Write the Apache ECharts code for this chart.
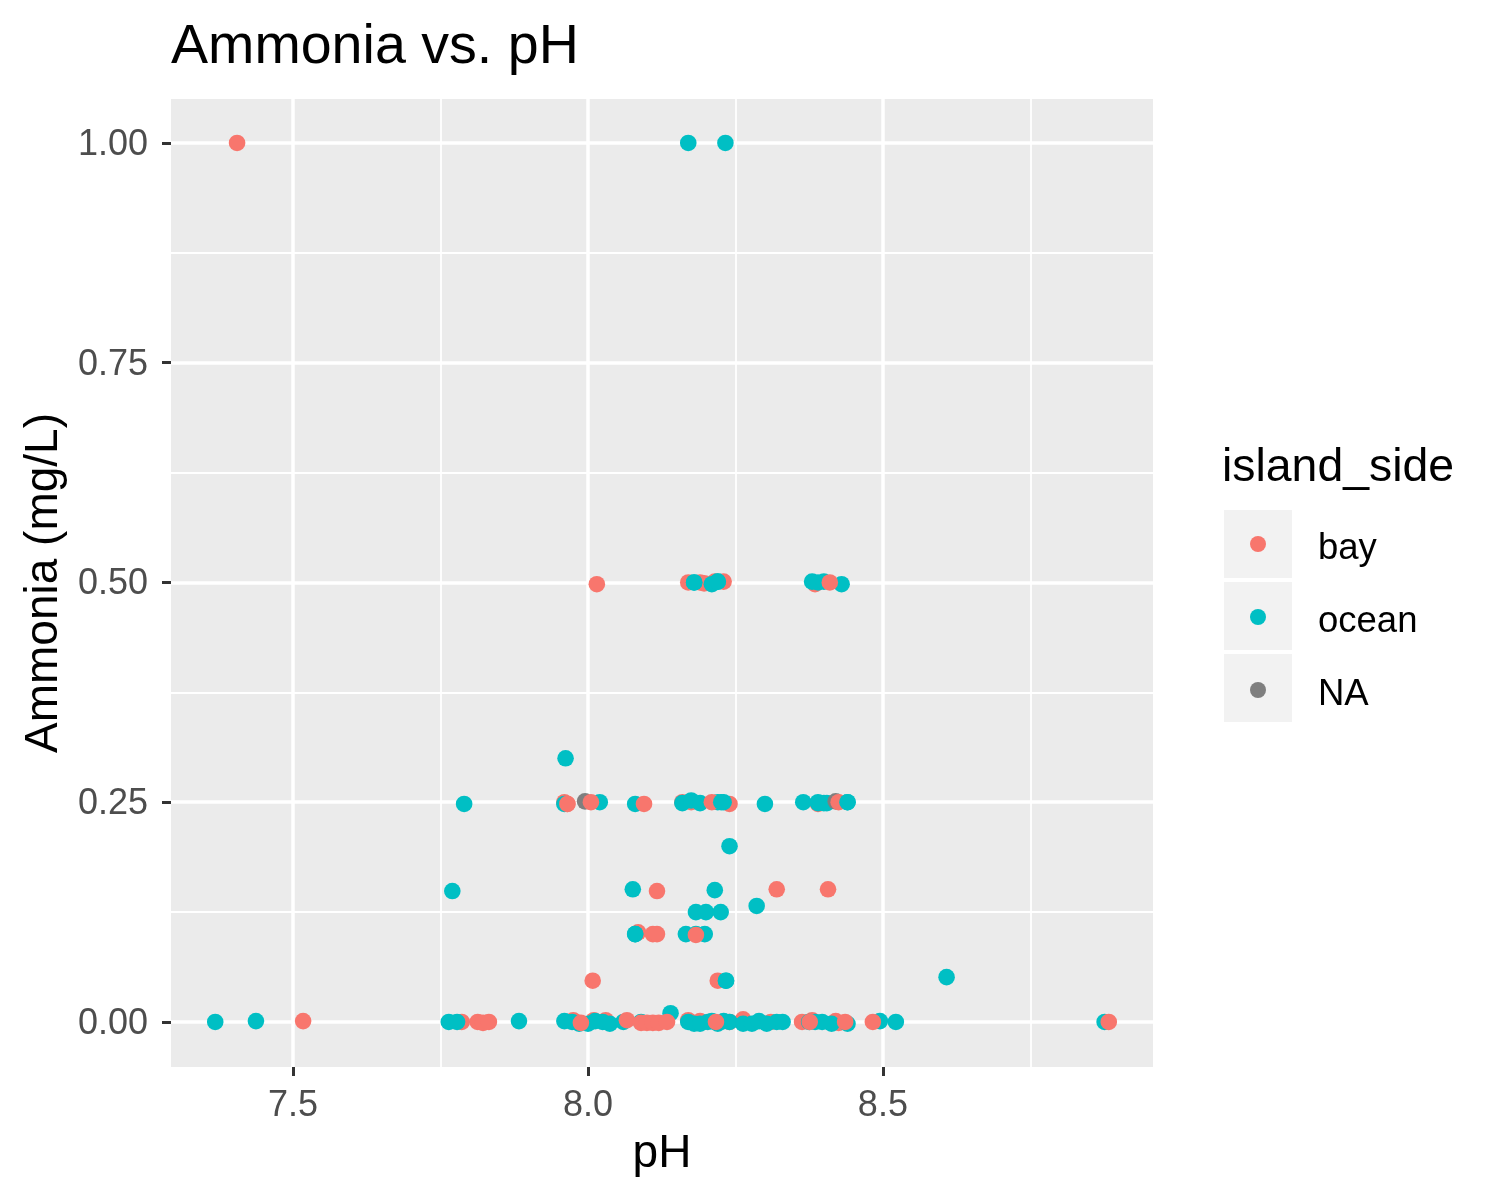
<!DOCTYPE html>
<html><head><meta charset="utf-8">
<script src="https://cdn.jsdelivr.net/npm/echarts@6/dist/echarts.min.js"></script>
<style>html,body{margin:0;padding:0;background:#fff}#c{width:1500px;height:1200px}</style></head>
<body><div id="c"></div>
<script>
const xMajor = [7.5, 8.0, 8.5];
const xMinor = [7.75, 8.25, 8.75];
const yMajor = [0, 0.25, 0.5, 0.75, 1];
const yMinor = [0.125, 0.375, 0.625, 0.875];
const legendNames = ['bay', 'ocean', 'NA'];

const naPoints = [[7.995,0.251],[8.42,0.251]];
const bayUnder = [
  [7.96,0.25],[7.965,0.248],[8.16,0.25],[8.175,0.25],[8.24,0.248],[8.39,0.248],
  [8.17,0.5],[8.197,0.499],[8.23,0.501],[8.215,0.501],
  [8.19,0.5],[8.385,0.498],[8.085,0.102],[8.22,0.047],
  [7.786,0],[7.813,0],[7.822,-0.001],[7.832,0],[7.975,0.002],[8.01,0.002],[8.03,0.002],
  [8.17,0.002],[8.19,0.001],[8.24,0],[8.263,0.003],[8.31,0],[8.363,0],[8.38,0.002],[8.42,0.001],[8.425,-0.001]
];
const oceanMid = [
  [8.17,1],[8.233,1],[7.962,0.3],[7.96,0.248],[8.02,0.25],[8.08,0.248],[8.16,0.249],[8.175,0.252],
  [8.19,0.249],[8.22,0.25],[8.23,0.25],[8.3,0.248],[8.365,0.25],[8.39,0.249],[8.4,0.249],[8.405,0.249],
  [8.44,0.25],[8.24,0.2],[8.076,0.151],[8.215,0.15],[8.286,0.132],[8.183,0.125],[8.2,0.125],[8.225,0.125],
  [8.08,0.1],[8.166,0.1],[8.183,0.1],[8.198,0.1],[8.234,0.047],[7.77,0.149],[7.79,0.248],[8.608,0.051],
  [8.18,0.5],[8.21,0.498],[8.22,0.501],[8.38,0.501],[8.39,0.5],[8.4,0.501],[8.43,0.498],
  [7.368,0],[7.437,0.001],[7.764,0],[7.778,0],[7.883,0.001],[7.96,0.001],[7.973,0],[7.985,-0.002],[8.0,-0.002],[8.012,0.001],[8.025,0],[8.037,-0.002],
  [8.06,0],[8.09,0],[8.14,0.01],[8.17,0],[8.18,-0.002],[8.19,-0.002],[8.203,0],[8.21,0.001],[8.22,-0.002],[8.23,0.001],[8.24,0],
  [8.263,-0.002],[8.278,-0.002],[8.29,0.001],[8.303,-0.002],[8.32,0],[8.33,0],[8.375,0],[8.385,0],[8.397,0],[8.413,-0.002],[8.44,-0.002],
  [8.495,0.001],[8.522,0],[8.876,0]
];
const bayTop = [
  [7.405,1],[7.965,0.248],[8.005,0.25],[8.095,0.248],[8.21,0.25],[8.425,0.25],[8.015,0.498],[8.41,0.5],
  [8.117,0.149],[8.32,0.151],[8.407,0.151],[8.11,0.1],[8.117,0.1],[8.183,0.099],[8.008,0.047],
  [7.517,0.001],[7.988,-0.001],[8.066,0.002],[8.09,-0.001],[8.1,-0.001],[8.11,-0.001],[8.12,-0.001],[8.134,0],
  [8.217,0],[8.376,0],[8.436,0],[8.483,0],[8.883,0]
];
const oceanTop = [[8.18,0.5],[8.22,0.501],[8.226,0.25],[8.234,0.047],[8.08,0.1],[8.39,0.25],[8.44,0.25]];

const chart = echarts.init(document.getElementById('c'), null, {renderer: 'canvas'});
const FONT = '"Liberation Sans", Arial, sans-serif';
const XR = [7.293, 8.958], YR = [-0.0512, 1.05];
const RED = '#F8766D', TEAL = '#00BFC4', GREY = '#7F7F7F';
const S = (name, data, color) => ({
  type: 'scatter', name, data, symbol: 'circle', symbolSize: 16.6,
  itemStyle: {color, opacity: 1}, silent: true, animation: false, clip: false
});
chart.setOption({
  animation: false,
  backgroundColor: '#fff',
  title: [
    {text: 'Ammonia vs. pH', left: 171, top: 20, padding: 0,
     textStyle: {fontFamily: FONT, fontSize: 55.6, fontWeight: 'normal', color: '#000'}},
    {text: 'island_side', left: 1222, top: 445, padding: 0,
     textStyle: {fontFamily: FONT, fontSize: 46.4, fontWeight: 'normal', color: '#000'}}
  ],
  grid: {left: 171, top: 99, width: 982, height: 968, backgroundColor: '#EBEBEB', show: true, borderWidth: 0, containLabel: false},
  graphic: [0, 1, 2].map(i => ({
    type: 'rect', left: 1224, top: 510 + i * 72, z: -1,
    shape: {width: 68, height: 68}, style: {fill: '#F2F2F2'}, silent: true
  })),
  legend: {
    orient: 'vertical', left: 1250, top: 521, padding: 0,
    data: legendNames, icon: 'circle', itemWidth: 16, itemHeight: 16, itemGap: 27,
    selectedMode: false,
    formatter: n => `{a|${n}}`,
    textStyle: {fontFamily: FONT, fontSize: 36.5, color: '#000',
      rich: {a: {fontFamily: FONT, fontSize: 36.5, lineHeight: 36, color: '#000', padding: [9, 0, 0, 47]}}}
  },
  xAxis: [
    {type: 'value', min: XR[0], max: XR[1], name: 'pH', nameLocation: 'middle', nameGap: 64,
     nameTextStyle: {fontFamily: FONT, fontSize: 46, color: '#000'},
     axisLine: {show: false, onZero: false},
     axisTick: {show: true, length: 9, lineStyle: {color: '#333', width: 3}, customValues: xMajor},
     axisLabel: {show: true, customValues: xMajor, margin: 21, fontFamily: FONT, fontSize: 36, color: '#4D4D4D',
       formatter: v => v.toFixed(1)},
     splitLine: {show: true, lineStyle: {color: '#fff', width: 3.5}}, z: 1},
    {type: 'value', min: XR[0], max: XR[1], position: 'bottom',
     axisLine: {show: false, onZero: false}, axisLabel: {show: false},
     axisTick: {show: false, customValues: xMinor},
     splitLine: {show: true, lineStyle: {color: '#fff', width: 1.8}}, z: 0}
  ],
  yAxis: [
    {type: 'value', min: YR[0], max: YR[1], name: 'Ammonia (mg/L)', nameLocation: 'middle', nameGap: 103, nameRotate: 90,
     nameTextStyle: {fontFamily: FONT, fontSize: 46, color: '#000'},
     axisLine: {show: false, onZero: false},
     axisTick: {show: true, length: 9, lineStyle: {color: '#333', width: 3}, customValues: yMajor},
     axisLabel: {show: true, customValues: yMajor, margin: 23, fontFamily: FONT, fontSize: 36, color: '#4D4D4D',
       formatter: v => `{a|${v.toFixed(2)}}`,
       rich: {a: {fontFamily: FONT, fontSize: 36, lineHeight: 36, color: '#4D4D4D', padding: [4, 0, 0, 0]}}},
     splitLine: {show: true, lineStyle: {color: '#fff', width: 3.5}}, z: 1},
    {type: 'value', min: YR[0], max: YR[1], position: 'left',
     axisLine: {show: false, onZero: false}, axisLabel: {show: false},
     axisTick: {show: false, customValues: yMinor},
     splitLine: {show: true, lineStyle: {color: '#fff', width: 1.8}}, z: 0}
  ],
  series: [
    S('bay', bayUnder, RED),
    S('ocean', oceanMid, TEAL),
    S('NA', naPoints, GREY),
    S('bay', bayTop, RED),
    S('ocean', oceanTop, TEAL)
  ]
});
</script></body></html>
